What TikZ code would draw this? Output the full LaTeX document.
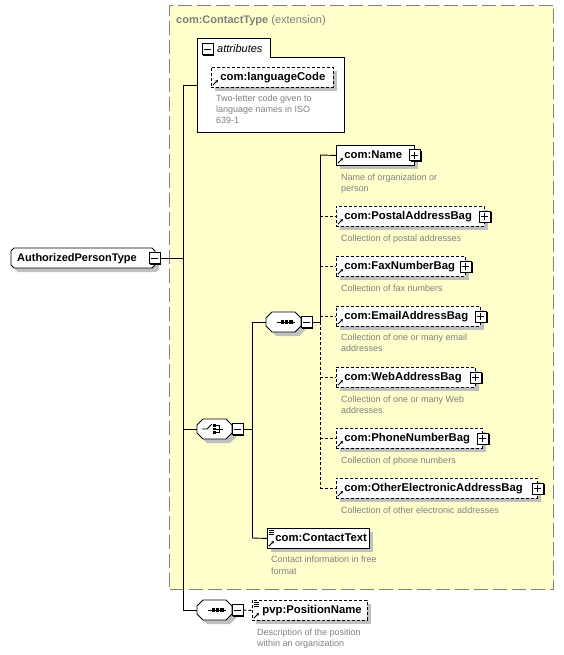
\documentclass[tikz,border=0pt]{standalone}
\usepackage{fontspec}
\setmainfont{Liberation Sans}
\usetikzlibrary{arrows.meta}
\definecolor{extfill}{RGB}{255,255,204}
\definecolor{extline}{RGB}{128,128,128}
\definecolor{shadowc}{RGB}{192,192,192}
\definecolor{desc}{RGB}{128,128,128}
\tikzset{
  elembox/.style={draw=black, fill=white, line width=0.9pt, inner xsep=0pt, inner ysep=0pt,
    minimum height=20pt, text height=9.5pt, text depth=2.5pt, align=left, anchor=north west,
    font=\fontsize{11.3}{13}\selectfont\bfseries},
  optional/.style={dash pattern=on 3pt off 2pt},
  desctext/.style={inner sep=0pt, anchor=north west, align=left, text=desc,
    font=\fontsize{9}{11.3}\selectfont},
  pmbox/.style={draw=black, fill=white, line width=0.9pt, minimum size=11pt, inner sep=0pt},
  conn/.style={line width=0.9pt},
  refarrow/.style={-{Stealth[length=3pt,width=3.2pt]}, line width=0.9pt},
}
% element box: #1 name, #2 x, #3 top y, #4 width, #5 text, #6 style, #7 left pad
\newcommand\Elem[7]{%
  \fill[shadowc] (#2+4,#3+4) rectangle (#2+#4+4,#3+24);
  \node[elembox,#6,text width=#4pt] (#1) at (#2,#3) {\hspace*{#7pt}#5};
  \draw[refarrow] (#2+1.8,#3+18.2) -- (#2+7,#3+13);
}
% plus/minus box: #1 name, #2 position, #3 1=plus
\newcommand\PMBox[3]{%
  \fill[black] ([shift={(1.3pt,-1.3pt)}]#2) ++(-5.5pt,-5.5pt) rectangle +(11pt,11pt);
  \node[pmbox] (#1) at (#2) {};
  \draw[line width=0.9pt] ([xshift=-3.5pt]#1.center) -- ([xshift=3.5pt]#1.center);
  \ifnum#3=1 \draw[line width=0.9pt] ([yshift=-3.5pt]#1.center) -- ([yshift=3.5pt]#1.center);\fi
}
% compositor: #1 name, #2 left x, #3 centre y
\newcommand\Comp[3]{%
  \fill[shadowc] (#2+10,#3-6) -- (#2+33,#3-6) -- (#2+39,#3) -- (#2+39,#3+8) -- (#2+33,#3+14)
     -- (#2+10,#3+14) -- (#2+4,#3+8) -- (#2+4,#3) -- cycle;
  \filldraw[fill=white, line width=0.9pt] (#2+6,#3-10) -- (#2+29,#3-10) -- (#2+35,#3-4)
     -- (#2+35,#3+4) -- (#2+29,#3+10) -- (#2+6,#3+10) -- (#2,#3+4) -- (#2,#3-4) -- cycle;
  \node[inner sep=0pt, minimum width=35pt, minimum height=20pt, anchor=west] (#1) at (#2,#3) {};
  \coordinate (#1m) at (#2+40.5,#3);
  \PMBox{#1x}{#1m}{0}
}
\newcommand\SeqIcon[2]{%
  \draw[line width=0.9pt] (#1+11,#2) -- (#1+29,#2);
  \fill (#1+15,#2-1.6) rectangle (#1+18.2,#2+1.6);
  \fill (#1+19.2,#2-1.6) rectangle (#1+22.4,#2+1.6);
  \fill (#1+23.4,#2-1.6) rectangle (#1+26.6,#2+1.6);
}
\newcommand\ChoiceIcon[2]{%
  \draw[line width=0.9pt] (#1+5,#2) -- (#1+10,#2) -- (#1+15,#2-5);
  \fill (#1+16,#2-5) rectangle (#1+18.6,#2-2.4);
  \fill (#1+16,#2-1.3) rectangle (#1+18.6,#2+1.3);
  \fill (#1+16,#2+2.4) rectangle (#1+18.6,#2+5);
  \draw[line width=0.9pt] (#1+18.6,#2-3.7) -- (#1+22.5,#2-3.7) -- (#1+22.5,#2+3.7) -- (#1+18.6,#2+3.7);
  \draw[line width=0.9pt] (#1+18.6,#2) -- (#1+26,#2);
}
\newcommand\TextIcon[2]{%
  \draw[line width=0.6pt] (#1+2,#2+2.5) -- (#1+7,#2+2.5);
  \draw[line width=0.6pt] (#1+2,#2+4.5) -- (#1+7,#2+4.5);
  \draw[line width=0.6pt] (#1+2,#2+6.5) -- (#1+7,#2+6.5);
}
\begin{document}
\begin{tikzpicture}[x=1pt,y=-1pt]
\useasboundingbox (0,0) rectangle (564,655);
% extension container
\node[draw=extline, fill=extfill, line width=1pt, dash pattern=on 14pt off 5pt,
  minimum width=384pt, minimum height=584pt, anchor=north west, inner sep=0pt] (ext) at (169,5) {};
\node[anchor=base west, inner sep=0pt, text=extline, font=\fontsize{11}{13}\selectfont]
  (exttitle) at (176,23.5) {\textbf{com:ContactType} (extension)};

% attributes group
\filldraw[fill=white, line width=0.9pt] (197,38) -- (270,38) -- (270,57) -- (344,57)
  -- (344,132) -- (197,132) -- cycle;
\node[inner sep=0pt, minimum width=147pt, minimum height=94pt, anchor=north west] (attrs) at (197,38) {};
\coordinate (attrm) at (207.5,49);
\PMBox{attrx}{attrm}{0}
\node[anchor=base west, inner sep=0pt, font=\fontsize{11}{13}\selectfont\itshape] (attrlabel) at (217,52.5) {attributes};
\Elem{lang}{211}{67}{122}{com:languageCode}{optional}{9}
\node[desctext] (langd) at (216,94.5) {Two-letter code given to\\language names in ISO\\639-1};

% root element
\fill[shadowc] (18,252) -- (156,252) -- (159,255) -- (159,269) -- (156,272) -- (18,272)
  -- (15,269) -- (15,255) -- cycle;
\filldraw[fill=white, line width=0.9pt] (14,248) -- (152,248) -- (155,251) -- (155,265)
  -- (152,268) -- (14,268) -- (11,265) -- (11,251) -- cycle;
\node[inner xsep=0pt, inner ysep=0pt, minimum height=20pt, text height=8.5pt, text depth=2.5pt,
  align=left, anchor=north west, text width=144pt, font=\fontsize{11}{13}\selectfont\bfseries]
  (apt) at (11,248) {\hspace*{6pt}AuthorizedPersonType};
\coordinate (aptm) at (154.5,258);
\PMBox{aptx}{aptm}{0}

% main vertical bracket
\coordinate (v0) at (183,85);
\coordinate (v1) at (183,610);
\draw[conn] (aptx.east) -- (aptx.east -| v0);
\draw[conn] (v0) -- (v1);
\draw[conn] (v0) -- (v0 -| attrs.west);

% choice compositor
\Comp{choice}{197}{429}
\ChoiceIcon{197}{429}
\draw[conn] (v0 |- choice.west) -- (choice.west);
\coordinate (v2) at (252,322);
\coordinate (v3) at (252,538);
\draw[conn] (choicex.east) -- (choicex.east -| v2);
\draw[conn] (v2) -- (v3);

% inner sequence
\Comp{seq}{266}{322}
\SeqIcon{266}{322}
\draw[conn] (v2) -- (seq.west);
\coordinate (v4) at (320,155);
\coordinate (v5) at (320,322);
\coordinate (v6) at (320,488);
\draw[conn] (seqx.east) -- (v5);
\draw[conn] (v4) -- (v5);
\draw[conn, optional] (v5) -- (v6);

% sequence children
\Elem{name}{336}{145}{78}{com:Name}{}{8}
\PMBox{namep}{name.east}{1}
\node[desctext] (named) at (341,173.5) {Name of organization or\\person};

\Elem{postal}{336}{206}{148}{com:PostalAddressBag}{optional}{8}
\PMBox{postalp}{postal.east}{1}
\node[desctext] (postald) at (341,234.5) {Collection of postal addresses};

\Elem{fax}{336}{256}{129}{com:FaxNumberBag}{optional}{8}
\PMBox{faxp}{fax.east}{1}
\node[desctext] (faxd) at (341,284.5) {Collection of fax numbers};

\Elem{email}{336}{306}{144}{com:EmailAddressBag}{optional}{8}
\PMBox{emailp}{email.east}{1}
\node[desctext] (emaild) at (341,333.5) {Collection of one or many email\\addresses};

\Elem{web}{336}{367}{139}{com:WebAddressBag}{optional}{8}
\PMBox{webp}{web.east}{1}
\node[desctext] (webd) at (341,395.5) {Collection of one or many Web\\addresses.};

\Elem{phone}{336}{428}{146}{com:PhoneNumberBag}{optional}{8}
\PMBox{phonep}{phone.east}{1}
\node[desctext] (phoned) at (341,456.5) {Collection of phone numbers};

\Elem{other}{336}{478}{201}{com:OtherElectronicAddressBag}{optional}{8}
\PMBox{otherp}{other.east}{1}
\node[desctext] (otherd) at (341,506.5) {Collection of other electronic addresses};

\draw[conn] (v4) -- (name.west);
\draw[conn, optional] (postal.west -| v4) -- (postal.west);
\draw[conn, optional] (fax.west -| v4) -- (fax.west);
\draw[conn, optional] (email.west -| v4) -- (email.west);
\draw[conn, optional] (web.west -| v4) -- (web.west);
\draw[conn, optional] (phone.west -| v4) -- (phone.west);
\draw[conn, optional] (other.west -| v4) -- (other.west);

% contact text
\Elem{ctext}{267}{528}{102}{com:ContactText}{}{8}
\TextIcon{267}{528}
\node[desctext] (ctextd) at (271,556) {Contact information in free\\format};
\draw[conn] (v3) -- (ctext.west);

% bottom sequence
\Comp{seqb}{197}{610}
\SeqIcon{197}{610}
\draw[conn] (v1) -- (seqb.west);
\Elem{pos}{252}{600}{115}{pvp:PositionName}{optional}{10}
\TextIcon{252}{600}
\draw[conn, optional] (seqbx.east) -- (pos.west);
\node[desctext] (posd) at (257,628.5) {Description of the position\\within an organization};
\end{tikzpicture}
\end{document}
